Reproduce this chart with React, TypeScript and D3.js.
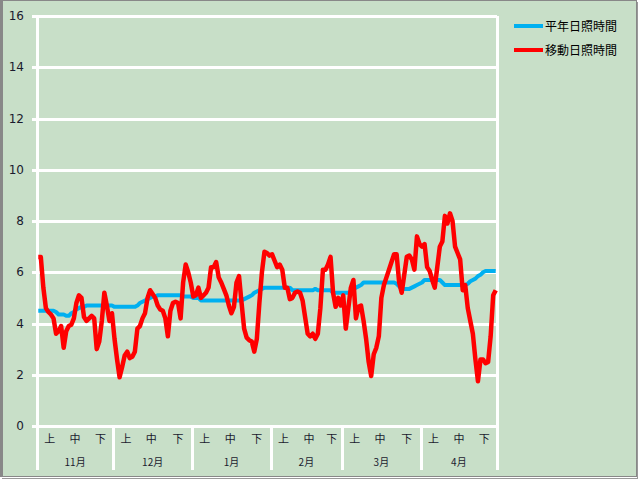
import React from "react";
import * as d3 from "d3";

const months = ["11月", "12月", "1月", "2月", "3月", "4月"];
const monthDays = [30, 31, 31, 28, 31, 30];
const decadeLabels = ["上", "中", "下"];
const yTicks = [0, 2, 4, 6, 8, 10, 12, 14, 16];
const seriesNames = ["平年日照時間", "移動日照時間"];

const normalNov = [4.5,4.5,4.5,4.5,4.5,4.5,4.5,4.45,4.35,4.35,4.35,4.3,4.3,4.4,4.45,4.55,4.6,4.65,4.65,4.7,4.7,4.7,4.7,4.7,4.7,4.7,4.7,4.7,4.7,4.7];
const normalDec = [4.65,4.65,4.65,4.65,4.65,4.65,4.65,4.65,4.65,4.7,4.8,4.85,4.9,4.95,5.0,5.05,5.05,5.1,5.1,5.1,5.1,5.1,5.1,5.1,5.1,5.1,5.1,5.05,5.05,5.05,5.05];
const normalJan = [5.0,5.0,5.0,4.9,4.9,4.9,4.9,4.9,4.9,4.9,4.9,4.9,4.9,4.9,4.9,4.9,4.9,4.9,4.9,4.9,4.95,5.0,5.05,5.1,5.2,5.25,5.3,5.35,5.4,5.4,5.4];
const normalFeb = [5.4,5.4,5.4,5.4,5.4,5.4,5.4,5.4,5.3,5.3,5.3,5.3,5.3,5.3,5.3,5.3,5.3,5.35,5.3,5.3,5.3,5.3,5.3,5.3,5.2,5.2,5.2,5.2];
const normalMar = [5.2,5.2,5.2,5.25,5.35,5.4,5.45,5.5,5.6,5.6,5.6,5.6,5.6,5.6,5.6,5.6,5.6,5.6,5.6,5.6,5.6,5.55,5.45,5.35,5.35,5.35,5.35,5.4,5.45,5.5,5.55];
const normalApr = [5.6,5.7,5.7,5.7,5.7,5.7,5.7,5.7,5.6,5.5,5.5,5.5,5.5,5.5,5.5,5.5,5.5,5.5,5.55,5.65,5.7,5.75,5.85,5.9,6.0,6.05,6.05,6.05,6.05,6.05];

const movingNov = [6.6,6.6,5.4,4.6,4.45,4.35,4.2,3.6,3.7,3.9,3.05,3.7,3.9,3.95,4.2,4.8,5.1,5.0,4.25,4.1,4.2,4.3,4.2,3.0,3.3,4.1,5.2,4.7,4.1,4.4];
const movingDec = [3.4,2.6,1.9,2.3,2.75,2.9,2.65,2.7,2.9,3.8,3.9,4.2,4.4,5.0,5.3,5.15,5.0,4.7,4.55,4.5,4.2,3.5,4.5,4.8,4.85,4.8,4.2,5.6,6.3,6.0,5.6];
const movingJan = [5.05,5.1,5.4,5.0,5.1,5.2,5.4,6.2,6.2,6.4,5.8,5.6,5.35,5.1,4.7,4.4,4.65,5.6,5.85,4.8,3.8,3.45,3.35,3.3,2.9,3.4,4.8,6.0,6.8,6.75,6.65];
const movingFeb = [6.7,6.45,6.2,6.3,6.1,5.4,5.4,4.95,5.0,5.2,5.25,5.2,4.9,4.25,3.6,3.5,3.6,3.4,3.6,4.6,6.1,6.1,6.3,6.6,5.2,4.65,5.0,4.7];
const movingMar = [5.1,3.8,4.6,5.4,5.7,4.2,4.65,4.7,4.1,3.4,2.5,1.95,2.8,3.05,3.5,5.0,5.5,5.8,6.1,6.4,6.7,6.7,5.6,5.2,5.9,6.6,6.65,6.5,6.1,7.4,7.1];
const movingApr = [7.0,7.1,6.2,6.05,5.7,5.4,6.2,7.0,7.2,8.2,7.9,8.3,8.0,7.0,6.75,6.5,5.3,5.5,4.6,4.1,3.6,2.6,1.75,2.6,2.6,2.45,2.5,3.5,5.1,5.3];

const normal = [...normalNov, ...normalDec, ...normalJan, ...normalFeb, ...normalMar, ...normalApr];
const moving = [...movingNov, ...movingDec, ...movingJan, ...movingFeb, ...movingMar, ...movingApr];

export default function App() {
  const W = 640, H = 480;
  const left = 37, right = 497, top = 16, bottom = 426;
  const totalDays = d3.sum(monthDays);
  const x = d3.scaleLinear().domain([0, totalDays]).range([left, right]);
  const y = d3.scaleLinear().domain([0, 16]).range([bottom, top]);
  const line = d3
    .line<number>()
    .x((_, i) => x(i + 0.5))
    .y((d) => y(d));

  const starts: number[] = [];
  let acc = 0;
  monthDays.forEach((d) => {
    starts.push(acc);
    acc += d;
  });

  const fontNum = "'DejaVu Sans', sans-serif";
  const fontJp = "'Noto Sans CJK JP', sans-serif";
  const textColor = "#1a1a2e";

  return (
    <svg
      width={W}
      height={H}
      style={{ position: "absolute", left: 0, top: 0 }}
      shapeRendering="crispEdges"
    >
      <rect x={0} y={0} width={W} height={H} fill="#ffffff" />
      <rect x={0} y={0} width={637} height={477} fill="#C8DFC8" />
      {/* frame */}
      <rect x={1} y={0.5} width={635} height={476} fill="none" stroke="#888888" strokeWidth={1} />
      <line x1={1.5} y1={0} x2={1.5} y2={477} stroke="#888888" strokeWidth={3} />
      <line x1={637.5} y1={2} x2={637.5} y2={479} stroke="#999999" strokeWidth={1} />
      <line x1={2} y1={478.5} x2={638} y2={478.5} stroke="#999999" strokeWidth={1} />

      {/* gridlines */}
      {yTicks.map((t) => (
        <line key={t} x1={left - 5} x2={right} y1={Math.round(y(t))} y2={Math.round(y(t))} stroke="#ffffff" strokeWidth={3} />
      ))}
      <line x1={left} x2={left} y1={top} y2={470} stroke="#ffffff" strokeWidth={3} />
      <line x1={right} x2={right} y1={top} y2={470} stroke="#ffffff" strokeWidth={3} />
      {starts.slice(1).map((s, i) => (
        <line key={i} x1={Math.round(x(s))} x2={Math.round(x(s))} y1={bottom} y2={470} stroke="#ffffff" strokeWidth={3} />
      ))}

      {/* y labels */}
      {yTicks.map((t) => (
        <text key={t} x={24} y={y(t)} dy="0.35em" textAnchor="end" fontFamily={fontNum} fontSize={12} fill={textColor}>
          {t}
        </text>
      ))}

      {/* x labels */}
      {months.map((m, mi) => {
        const s = starts[mi];
        const n = monthDays[mi];
        const spans = [
          [0, 10],
          [10, 20],
          [20, n],
        ];
        return (
          <g key={m}>
            {spans.map(([a, b], di) => (
              <text key={di} x={x(s + (a + b) / 2)} y={443} textAnchor="middle" fontFamily={fontJp} fontSize={11} fill={textColor}>
                {decadeLabels[di]}
              </text>
            ))}
            <text x={x(s + n / 2)} y={466} textAnchor="middle" fontFamily={fontJp} fontSize={10} fill={textColor}>
              {m}
            </text>
          </g>
        );
      })}

      {/* series */}
      <g shapeRendering="auto">
        <path d={line(normal) || ""} fill="none" stroke="#00B0F0" strokeWidth={4} strokeLinejoin="round" />
        <path d={line(moving) || ""} fill="none" stroke="#FF0000" strokeWidth={4.5} strokeLinejoin="round" />
      </g>

      {/* legend */}
      {seriesNames.map((n, i) => (
        <g key={n} transform={`translate(0, ${26 + i * 24})`}>
          <line x1={514} x2={543} y1={0} y2={0} stroke={i === 0 ? "#00B0F0" : "#FF0000"} strokeWidth={4} />
          <text x={545} y={0} dy="0.38em" fontFamily={fontJp} fontSize={12} fill="#000">
            {n}
          </text>
        </g>
      ))}
    </svg>
  );
}
